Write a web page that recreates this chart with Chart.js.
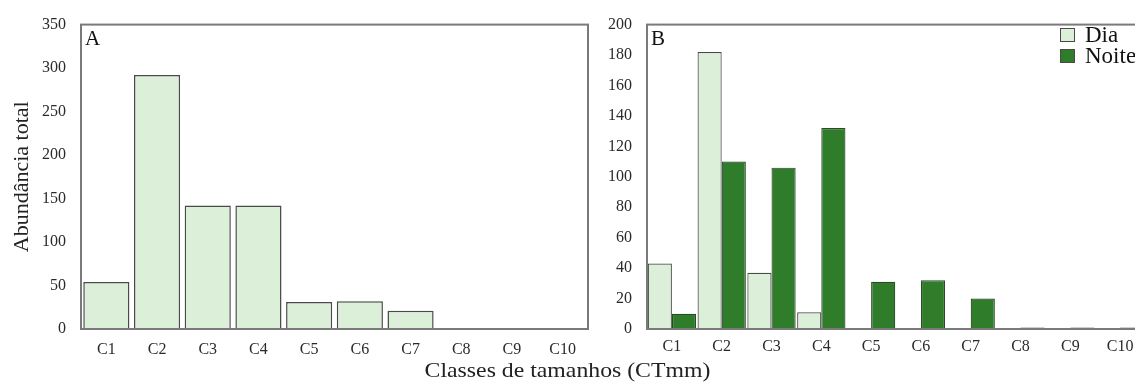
<!DOCTYPE html>
<html>
<head>
<meta charset="utf-8">
<script src="https://cdn.jsdelivr.net/npm/chart.js@4"></script>
<style>
  html, body { margin: 0; padding: 0; background: #fff; overflow: hidden; width: 1135px; height: 385px; }
  .panel { position: absolute; top: 0; }
  #wrapA { left: 0; }
  #wrapB { left: 590px; }
  #xTitle {
    position: absolute; left: 0; width: 1135px; top: 357px; text-align: center;
    font-family: "Liberation Serif", "DejaVu Serif", serif; font-size: 22px; color: #222;
    transform: scaleX(1.08);
  }
</style>
</head>
<body>
<div class="panel" id="wrapA"><canvas id="chartA" width="600" height="385"></canvas></div>
<div class="panel" id="wrapB"><canvas id="chartB" width="570" height="385"></canvas></div>
<div id="xTitle">Classes de tamanhos (CTmm)</div>
<script>
const categories = ["C1", "C2", "C3", "C4", "C5", "C6", "C7", "C8", "C9", "C10"];
const totalA = [54, 292, 142, 142, 31, 32, 21, 1, 1, 1];
const diaB = [43, 182, 37, 11, 0, 0, 0, 0, 0, 0];
const noiteB = [10, 110, 106, 132, 31, 32, 20, 1, 1, 1];
const ticksA = [0, 50, 100, 150, 200, 250, 300, 350];
const ticksB = [0, 20, 40, 60, 80, 100, 120, 140, 160, 180, 200];

const serif = "'Liberation Serif', 'DejaVu Serif', serif";
const lightGreen = "#dcefd8";
const darkGreen = "#2f7d2a";
const barEdge = "#4a4a4a";

// frame around plot area + panel letter
const framePlugin = {
  id: "frame",
  afterDraw(chart, args, opts) {
    const { ctx, chartArea: a } = chart;
    ctx.save();
    ctx.strokeStyle = "#7a7a7a";
    ctx.lineWidth = 2;
    ctx.strokeRect(a.left, a.top, a.right - a.left, a.bottom - a.top);
    ctx.fillStyle = "#111";
    ctx.font = "21px " + serif;
    ctx.textBaseline = "top";
    ctx.fillText(opts.letter, a.left + 4, a.top + 4);
    ctx.restore();
  },
};

// legend drawn inside plot area (top right)
const insideLegend = {
  id: "insideLegend",
  afterDraw(chart, args, opts) {
    if (!opts.x) return;
    const { ctx } = chart;
    ctx.save();
    ctx.font = "23px " + serif;
    ctx.textBaseline = "middle";
    chart.data.datasets.forEach((ds, i) => {
      const y = opts.y + i * 21;
      ctx.fillStyle = ds.backgroundColor;
      ctx.strokeStyle = barEdge;
      ctx.lineWidth = 1;
      ctx.fillRect(opts.x, y - 7, 15, 14);
      ctx.strokeRect(opts.x + 0.5, y - 6.5, 14, 13);
      ctx.fillStyle = "#111";
      ctx.fillText(ds.label, opts.x + 25, y + 1);
    });
    ctx.restore();
  },
};

const yScale = (max, stepTicks, width, title) => ({
  min: 0,
  max: max,
  afterBuildTicks: (s) => { s.ticks = stepTicks.map((v) => ({ value: v })); },
  afterFit: (s) => { s.width = width; },
  grid: { display: false, drawTicks: false },
  border: { display: false },
  ticks: { color: "#2a2a2a", font: { family: serif, size: 16 }, padding: 15 },
  title: title
    ? { display: true, text: title, color: "#222", font: { family: serif, size: 22 }, padding: { top: 9, bottom: 0 } }
    : { display: false },
});

const xScale = (pad) => ({
  afterFit: (s) => { s.height = 385 - 329; },
  grid: { display: false, drawTicks: false },
  border: { display: false },
  ticks: { color: "#2a2a2a", font: { family: serif, size: 16 }, padding: pad, maxRotation: 0, autoSkip: false },
});

new Chart(document.getElementById("chartA"), {
  type: "bar",
  data: {
    labels: categories,
    datasets: [{
      label: "Total",
      data: totalA,
      backgroundColor: lightGreen,
      borderColor: barEdge,
      borderWidth: 1.5,
      barPercentage: 0.91,
      categoryPercentage: 1,
    }],
  },
  options: {
    responsive: false,
    animation: false,
    layout: { padding: { left: 0, right: 12, top: 20, bottom: 0 } },
    plugins: { legend: { display: false }, tooltip: { enabled: false }, frame: { letter: "A" } },
    scales: { x: xScale(11), y: yScale(350, ticksA, 81, "Abundância total") },
  },
  plugins: [framePlugin],
});

new Chart(document.getElementById("chartB"), {
  type: "bar",
  data: {
    labels: categories,
    datasets: [
      { label: "Dia", data: diaB, backgroundColor: lightGreen, borderColor: barEdge, borderWidth: 1.2, barPercentage: 1, categoryPercentage: 0.97 },
      { label: "Noite", data: noiteB, backgroundColor: darkGreen, borderColor: "#2a4a28", borderWidth: 1.2, barPercentage: 1, categoryPercentage: 0.97 },
    ],
  },
  options: {
    responsive: false,
    animation: false,
    layout: { padding: { left: 0, right: 15, top: 20, bottom: 0 } },
    plugins: {
      legend: { display: false },
      tooltip: { enabled: false },
      frame: { letter: "B" },
      insideLegend: { x: 470, y: 35 },
    },
    scales: { x: xScale(8), y: yScale(200, ticksB, 57, null) },
  },
  plugins: [framePlugin, insideLegend],
});
</script>
</body>
</html>
